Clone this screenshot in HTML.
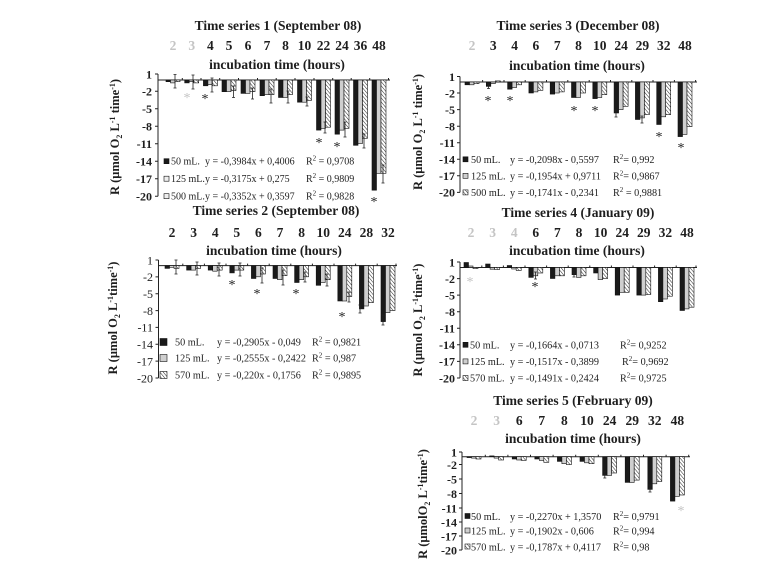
<!DOCTYPE html>
<html><head><meta charset="utf-8">
<style>
html,body{margin:0;padding:0;background:#fff;}
svg{display:block;}
text{font-family:"Liberation Serif",serif;fill:#1e1e1e;}
.t{font-size:13.5px;font-weight:bold;text-anchor:middle;}
.xl{font-size:13.5px;font-weight:bold;text-anchor:middle;}
.gy{fill:#c4c4c4;}
.yl{font-size:12px;font-weight:bold;text-anchor:end;}
.yn{font-size:12px;font-weight:normal;text-anchor:end;}
.yt{font-size:12.5px;font-weight:bold;text-anchor:middle;}
.lg{font-size:10.2px;}
.lg1{font-size:10px;}
.as{font-size:14px;font-weight:normal;text-anchor:middle;}
.k{fill:#1a1a1a;stroke:#111;stroke-width:.6;}
.g{fill:#cfcfcf;stroke:#111;stroke-width:.6;}
.h{fill:url(#hp);stroke:#111;stroke-width:.6;}
.ax{fill:none;stroke:#222;stroke-width:1;}
.er{fill:none;stroke:#222;stroke-width:.8;}
</style></head>
<body>
<svg width="767" height="570" viewBox="0 0 767 570" xmlns="http://www.w3.org/2000/svg">
<defs>
<pattern id="hp" width="2.6" height="2.6" patternUnits="userSpaceOnUse" patternTransform="rotate(-40)">
<rect width="2.6" height="2.6" fill="#fff"/><line x1="0" y1="0" x2="0" y2="2.6" stroke="#222" stroke-width="1"/>
</pattern>
</defs>

<!-- ================= PANEL 1 ================= -->
<text class="t" x="278" y="30">Time series 1 (September 08)</text>
<text class="xl gy" x="173" y="50">2</text>
<text class="xl gy" x="191.7" y="50">3</text>
<text class="xl" x="210.4" y="50">4</text>
<text class="xl" x="229" y="50">5</text>
<text class="xl" x="248" y="50">6</text>
<text class="xl" x="267" y="50">7</text>
<text class="xl" x="285.5" y="50">8</text>
<text class="xl" x="304.5" y="50">10</text>
<text class="xl" x="323.5" y="50">22</text>
<text class="xl" x="342" y="50">24</text>
<text class="xl" x="360.5" y="50">36</text>
<text class="xl" x="379" y="50">48</text>
<text class="t" x="277" y="69">incubation time (hours)</text>
<text class="yt" transform="translate(119,137) rotate(-90)">R (μmol O<tspan font-size="8" dy="3">2</tspan><tspan dy="-3"> L</tspan><tspan font-size="8" dy="-4">-1</tspan><tspan dy="4"> time</tspan><tspan font-size="8" dy="-4">-1</tspan><tspan dy="4">)</tspan></text>
<text class="yl" x="152" y="78.3">1</text>
<text class="yl" x="152" y="95.6">-2</text>
<text class="yl" x="152" y="113.1">-5</text>
<text class="yl" x="152" y="130.5">-8</text>
<text class="yl" x="152" y="148">-11</text>
<text class="yl" x="152" y="165.5">-14</text>
<text class="yl" x="152" y="183">-17</text>
<text class="yl" x="152" y="200.5">-20</text>
<path class="ax" d="M158 74V196.2M155 74H158M155 91.3H158M155 108.8H158M155 126.2H158M155 143.7H158M155 161.2H158M155 178.7H158M155 196.2H158M158 80H390M182.3 80v-2M201 80v-2M219.7 80v-2M238.5 80v-2M257.5 80v-2M276.2 80v-2M295 80v-2M314 80v-2M332.7 80v-2M351.2 80v-2M369.7 80v-2M388.5 80v-2"/>
<g>
<rect class="k" x="166" y="80" width="4.5" height="1.7"/><rect class="g" x="170.5" y="80" width="4.5" height="2.9"/><rect class="h" x="175" y="80" width="5" height="1.7"/>
<rect class="k" x="184.7" y="80" width="4.5" height="2.9"/><rect class="g" x="189.2" y="80" width="4.5" height="1.7"/><rect class="h" x="193.7" y="80" width="5" height="2.9"/>
<rect class="k" x="203.4" y="80" width="4.5" height="5.8"/><rect class="g" x="207.9" y="80" width="4.5" height="4.7"/><rect class="h" x="212.4" y="80" width="5" height="5.8"/>
<rect class="k" x="222" y="80" width="4.5" height="11.7"/><rect class="g" x="226.5" y="80" width="4.5" height="11.7"/><rect class="h" x="231" y="80" width="5" height="10.5"/>
<rect class="k" x="241" y="80" width="4.5" height="13.4"/><rect class="g" x="245.5" y="80" width="4.5" height="13.4"/><rect class="h" x="250" y="80" width="5" height="11.7"/>
<rect class="k" x="260" y="80" width="4.5" height="15.7"/><rect class="g" x="264.5" y="80" width="4.5" height="14.6"/><rect class="h" x="269" y="80" width="5" height="14.6"/>
<rect class="k" x="278.5" y="80" width="4.5" height="17.5"/><rect class="g" x="283" y="80" width="4.5" height="17.5"/><rect class="h" x="287.5" y="80" width="5" height="14.6"/>
<rect class="k" x="297.5" y="80" width="4.5" height="22.2"/><rect class="g" x="302" y="80" width="4.5" height="22.2"/><rect class="h" x="306.5" y="80" width="5" height="20.4"/>
<rect class="k" x="316.5" y="80" width="4.5" height="50.1"/><rect class="g" x="321" y="80" width="4.5" height="48.4"/><rect class="h" x="325.5" y="80" width="5" height="47.2"/>
<rect class="k" x="335" y="80" width="4.5" height="54.2"/><rect class="g" x="339.5" y="80" width="4.5" height="50.1"/><rect class="h" x="344" y="80" width="5" height="48.4"/>
<rect class="k" x="353.5" y="80" width="4.5" height="65.3"/><rect class="g" x="358" y="80" width="4.5" height="63.5"/><rect class="h" x="362.5" y="80" width="5" height="58.3"/>
<rect class="k" x="372" y="80" width="4.5" height="110.2"/><rect class="g" x="376.5" y="80" width="4.5" height="93.3"/><rect class="h" x="381" y="80" width="5" height="93.3"/>
</g>
<path class="er" d="M175 74.5V88M173.5 74.5h3M173.5 88h3M193 75V89M191.5 75h3M191.5 89h3M212 78V92M210.5 78h3M210.5 92h3M233.5 86V97.5M232 86h3M232 97.5h3M252.5 88V99M251 88h3M251 99h3M271 89V103M269.5 89h3M269.5 103h3M288 91V103M286.5 91h3M286.5 103h3M307 97V106M305.5 97h3M305.5 106h3M325 122V133M323.5 122h3M323.5 133h3M345 122V137M343.5 122h3M343.5 137h3M364 134V148M362.5 134h3M362.5 148h3M383 165V183M381.5 165h3M381.5 183h3"/>
<text class="as gy" x="187" y="102">*</text>
<text class="as" x="205" y="103">*</text>
<text class="as" x="319" y="147">*</text>
<text class="as" x="337" y="151">*</text>
<text class="as" x="374" y="206">*</text>
<rect class="k" x="164" y="158.7" width="5" height="5"/>
<rect class="g" x="164" y="176.2" width="5" height="5" style="fill:#eee"/>
<rect class="g" x="164" y="193.7" width="5" height="5" style="fill:#eee"/>
<text class="lg1" x="171" y="164.7">50 mL.</text><text class="lg1" x="205" y="164.7">y = -0,3984x + 0,4006</text><text class="lg1" x="306" y="164.7">R<tspan font-size="7" dy="-4">2</tspan><tspan dy="4"> = 0,9708</tspan></text>
<text class="lg1" x="171" y="182.2">125 mL.</text><text class="lg1" x="205" y="182.2">y = -0,3175x + 0,275</text><text class="lg1" x="306" y="182.2">R<tspan font-size="7" dy="-4">2</tspan><tspan dy="4"> = 0,9809</tspan></text>
<text class="lg1" x="171" y="199.7">500 mL.</text><text class="lg1" x="205" y="199.7">y = -0,3352x + 0,3597</text><text class="lg1" x="306" y="199.7">R<tspan font-size="7" dy="-4">2</tspan><tspan dy="4"> = 0,9828</tspan></text>

<!-- ================= PANEL 2 ================= -->
<text class="t" x="276" y="215">Time series 2 (September 08)</text>
<text class="xl" x="172" y="237">2</text>
<text class="xl" x="193.6" y="237">3</text>
<text class="xl" x="215.2" y="237">4</text>
<text class="xl" x="236.8" y="237">5</text>
<text class="xl" x="258.4" y="237">6</text>
<text class="xl" x="280" y="237">7</text>
<text class="xl" x="301.6" y="237">8</text>
<text class="xl" x="323.2" y="237">10</text>
<text class="xl" x="344.8" y="237">24</text>
<text class="xl" x="366.4" y="237">28</text>
<text class="xl" x="388" y="237">32</text>
<text class="t" x="274" y="255">incubation time (hours)</text>
<text class="yt" transform="translate(117,318) rotate(-90)">R (μmol O<tspan font-size="8" dy="3">2</tspan><tspan dy="-3"> L</tspan><tspan font-size="8" dy="-4">-1</tspan><tspan dy="4">time</tspan><tspan font-size="8" dy="-4">-1</tspan><tspan dy="4">)</tspan></text>
<text class="yn" x="153" y="264.3">1</text>
<text class="yn" x="153" y="281.2">-2</text>
<text class="yn" x="153" y="298">-5</text>
<text class="yn" x="153" y="314.9">-8</text>
<text class="yn" x="153" y="331.7">-11</text>
<text class="yn" x="153" y="348.6">-14</text>
<text class="yn" x="153" y="365.4">-17</text>
<text class="yn" x="153" y="382.3">-20</text>
<path class="ax" d="M158.5 260V378M155.5 260H158.5M155.5 276.9H158.5M155.5 293.7H158.5M155.5 310.6H158.5M155.5 327.4H158.5M155.5 344.3H158.5M155.5 361.1H158.5M155.5 378H158.5M158.5 265.6H397M182.8 265.6v-2M204.4 265.6v-2M226 265.6v-2M247.6 265.6v-2M269.2 265.6v-2M290.8 265.6v-2M312.4 265.6v-2M334 265.6v-2M355.6 265.6v-2M377.2 265.6v-2M396 265.6v-2"/>
<g>
<rect class="k" x="165" y="265.6" width="4.5" height="2.8"/><rect class="g" x="169.5" y="265.6" width="4.5" height="1.7"/><rect class="h" x="174" y="265.6" width="5" height="2.8"/>
<rect class="k" x="186.6" y="265.6" width="4.5" height="4.5"/><rect class="g" x="191.1" y="265.6" width="4.5" height="4.5"/><rect class="h" x="195.6" y="265.6" width="5" height="2.8"/>
<rect class="k" x="208.2" y="265.6" width="4.5" height="4.5"/><rect class="g" x="212.7" y="265.6" width="4.5" height="5.6"/><rect class="h" x="217.2" y="265.6" width="5" height="4.5"/>
<rect class="k" x="229.8" y="265.6" width="4.5" height="7.3"/><rect class="g" x="234.3" y="265.6" width="4.5" height="4.5"/><rect class="h" x="238.8" y="265.6" width="5" height="4.5"/>
<rect class="k" x="251.4" y="265.6" width="4.5" height="12.9"/><rect class="g" x="255.9" y="265.6" width="4.5" height="11.2"/><rect class="h" x="260.4" y="265.6" width="5" height="8.4"/>
<rect class="k" x="273" y="265.6" width="4.5" height="12.9"/><rect class="g" x="277.5" y="265.6" width="4.5" height="14.1"/><rect class="h" x="282" y="265.6" width="5" height="10.1"/>
<rect class="k" x="294.6" y="265.6" width="4.5" height="16.9"/><rect class="g" x="299.1" y="265.6" width="4.5" height="14.1"/><rect class="h" x="303.6" y="265.6" width="5" height="11.2"/>
<rect class="k" x="316.2" y="265.6" width="4.5" height="19.7"/><rect class="g" x="320.7" y="265.6" width="4.5" height="16.9"/><rect class="h" x="325.2" y="265.6" width="5" height="14.1"/>
<rect class="k" x="337.8" y="265.6" width="4.5" height="35.4"/><rect class="g" x="342.3" y="265.6" width="4.5" height="35.4"/><rect class="h" x="346.8" y="265.6" width="5" height="30.9"/>
<rect class="k" x="359.4" y="265.6" width="4.5" height="43.3"/><rect class="g" x="363.9" y="265.6" width="4.5" height="40.4"/><rect class="h" x="368.4" y="265.6" width="5" height="37"/>
<rect class="k" x="381" y="265.6" width="4.5" height="56"/><rect class="g" x="385.5" y="265.6" width="4.5" height="47"/><rect class="h" x="390" y="265.6" width="5" height="45"/>
</g>
<path class="er" d="M176 260V274M174.5 260h3M174.5 274h3M197 262V275M195.5 262h3M195.5 275h3M219 263V276M217.5 263h3M217.5 276h3M240 263V276M238.5 263h3M238.5 276h3M262 268V283M260.5 268h3M260.5 283h3M283 270V285M281.5 270h3M281.5 285h3M305 272V282M303.5 272h3M303.5 282h3M327 274V286M325.5 274h3M325.5 286h3M349 292V302M347.5 292h3M347.5 302h3M360 305V313M358.5 305h3M358.5 313h3M383 315V325M381.5 315h3M381.5 325h3"/>
<text class="as" x="232" y="289">*</text>
<text class="as" x="257" y="298">*</text>
<text class="as" x="296" y="298">*</text>
<text class="as" x="342" y="321">*</text>
<rect class="k" x="160" y="338.5" width="7" height="7"/>
<rect class="g" x="160" y="354.5" width="7" height="7"/>
<rect class="h" x="160" y="371.5" width="7" height="7"/>
<text class="lg" x="175" y="345.5">50 mL.</text><text class="lg" x="217" y="345.5">y = -0,2905x - 0,049</text><text class="lg" x="312" y="345.5">R<tspan font-size="7" dy="-4">2</tspan><tspan dy="4"> = 0,9821</tspan></text>
<text class="lg" x="175" y="361.5">125 mL.</text><text class="lg" x="217" y="361.5">y = -0,2555x - 0,2422</text><text class="lg" x="312" y="361.5">R<tspan font-size="7" dy="-4">2</tspan><tspan dy="4"> = 0,987</tspan></text>
<text class="lg" x="175" y="378.5">570 mL.</text><text class="lg" x="217" y="378.5">y = -0,220x - 0,1756</text><text class="lg" x="312" y="378.5">R<tspan font-size="7" dy="-4">2</tspan><tspan dy="4"> = 0,9895</tspan></text>

<!-- ================= PANEL 3 ================= -->
<text class="t" x="578" y="30">Time series 3 (December 08)</text>
<text class="xl gy" x="472" y="50">2</text>
<text class="xl" x="493.3" y="50">3</text>
<text class="xl" x="514.6" y="50">4</text>
<text class="xl" x="535.9" y="50">6</text>
<text class="xl" x="557.2" y="50">7</text>
<text class="xl" x="578.5" y="50">8</text>
<text class="xl" x="599.8" y="50">10</text>
<text class="xl" x="621.1" y="50">24</text>
<text class="xl" x="642.4" y="50">29</text>
<text class="xl" x="663.7" y="50">32</text>
<text class="xl" x="685" y="50">48</text>
<text class="t" x="577" y="70">incubation time (hours)</text>
<text class="yt" transform="translate(422,132) rotate(-90)">R (μmol O<tspan font-size="8" dy="3">2</tspan><tspan dy="-3"> L</tspan><tspan font-size="8" dy="-4">-1</tspan><tspan dy="4"> time</tspan><tspan font-size="8" dy="-4">-1</tspan><tspan dy="4">)</tspan></text>
<text class="yl" x="455" y="80.8">1</text>
<text class="yl" x="455" y="97.3">-2</text>
<text class="yl" x="455" y="113.9">-5</text>
<text class="yl" x="455" y="130.5">-8</text>
<text class="yl" x="455" y="147">-11</text>
<text class="yl" x="455" y="163.6">-14</text>
<text class="yl" x="455" y="180.1">-17</text>
<text class="yl" x="455" y="196.7">-20</text>
<path class="ax" d="M460 76.5V192.4M457 76.5H460M457 93H460M457 109.6H460M457 126.2H460M457 142.7H460M457 159.3H460M457 175.8H460M457 192.4H460M460 82H697M482.6 82v-2M504 82v-2M525.2 82v-2M546.5 82v-2M567.8 82v-2M589.2 82v-2M610.5 82v-2M631.8 82v-2M653 82v-2M674.4 82v-2M695.6 82v-2"/>
<g>
<rect class="k" x="465" y="82" width="4.5" height="2.8"/><rect class="g" x="469.5" y="82" width="4.5" height="2.8"/><rect class="h" x="474" y="82" width="5" height="1.7"/>
<rect class="k" x="486.3" y="82" width="4.5" height="4.4"/><rect class="g" x="490.8" y="82" width="4.5" height="1.7"/><rect class="h" x="495.3" y="80.9" width="5" height="1.1"/>
<rect class="k" x="507.6" y="82" width="4.5" height="7.2"/><rect class="g" x="512.1" y="82" width="4.5" height="5.5"/><rect class="h" x="516.6" y="82" width="5" height="2.8"/>
<rect class="k" x="528.9" y="82" width="4.5" height="11"/><rect class="g" x="533.4" y="82" width="4.5" height="9.9"/><rect class="h" x="537.9" y="82" width="5" height="8.3"/>
<rect class="k" x="550.2" y="82" width="4.5" height="12.1"/><rect class="g" x="554.7" y="82" width="4.5" height="11"/><rect class="h" x="559.2" y="82" width="5" height="9.9"/>
<rect class="k" x="571.5" y="82" width="4.5" height="15.5"/><rect class="g" x="576" y="82" width="4.5" height="15.5"/><rect class="h" x="580.5" y="82" width="5" height="11"/>
<rect class="k" x="592.8" y="82" width="4.5" height="16.6"/><rect class="g" x="597.3" y="82" width="4.5" height="15.5"/><rect class="h" x="601.8" y="82" width="5" height="12.7"/>
<rect class="k" x="614.1" y="82" width="4.5" height="31"/><rect class="g" x="618.6" y="82" width="4.5" height="27.6"/><rect class="h" x="623.1" y="82" width="5" height="24.3"/>
<rect class="k" x="635.4" y="82" width="4.5" height="37.5"/><rect class="g" x="639.9" y="82" width="4.5" height="35.9"/><rect class="h" x="644.4" y="82" width="5" height="32.6"/>
<rect class="k" x="656.7" y="82" width="4.5" height="42.5"/><rect class="g" x="661.2" y="82" width="4.5" height="34.8"/><rect class="h" x="665.7" y="82" width="5" height="32.6"/>
<rect class="k" x="678" y="82" width="4.5" height="54.6"/><rect class="g" x="682.5" y="82" width="4.5" height="52.4"/><rect class="h" x="687" y="82" width="5" height="44.7"/>
</g>
<path class="er" d="M488.5 84V88.5M487 84h3M487 88.5h3M616 110V117M614.5 110h3M614.5 117h3M642 116V123M640.5 116h3M640.5 123h3"/>
<text class="as" x="488" y="105">*</text>
<text class="as" x="510" y="105">*</text>
<text class="as" x="574" y="115">*</text>
<text class="as" x="595" y="115">*</text>
<text class="as" x="659" y="141">*</text>
<text class="as" x="681" y="152">*</text>
<rect class="k" x="463" y="156.8" width="5" height="5"/>
<rect class="g" x="463" y="173.3" width="5" height="5"/>
<rect class="h" x="463" y="189.9" width="5" height="5"/>
<text class="lg" x="471" y="163">50 mL.</text><text class="lg" x="510" y="163">y = -0,2098x - 0,5597</text><text class="lg" x="613" y="163">R<tspan font-size="7" dy="-4">2</tspan><tspan dy="4">= 0,992</tspan></text>
<text class="lg" x="471" y="179.5">125 mL.</text><text class="lg" x="510" y="179.5">y = -0,1954x + 0,9711</text><text class="lg" x="613" y="179.5">R<tspan font-size="7" dy="-4">2</tspan><tspan dy="4">= 0,9867</tspan></text>
<text class="lg" x="471" y="196">500 mL.</text><text class="lg" x="510" y="196">y =  -0,1741x - 0,2341</text><text class="lg" x="613" y="196">R<tspan font-size="7" dy="-4">2</tspan><tspan dy="4"> = 0,9881</tspan></text>

<!-- ================= PANEL 4 ================= -->
<text class="t" x="578" y="217">Time series 4 (January 09)</text>
<text class="xl gy" x="471" y="237">2</text>
<text class="xl gy" x="492.6" y="237">3</text>
<text class="xl gy" x="514.2" y="237">4</text>
<text class="xl" x="535.8" y="237">6</text>
<text class="xl" x="557.4" y="237">7</text>
<text class="xl" x="579" y="237">8</text>
<text class="xl" x="600.6" y="237">10</text>
<text class="xl" x="622.2" y="237">24</text>
<text class="xl" x="643.8" y="237">29</text>
<text class="xl" x="665.4" y="237">32</text>
<text class="xl" x="687" y="237">48</text>
<text class="t" x="577" y="255">incubation time (hours)</text>
<text class="yt" transform="translate(422,320) rotate(-90)">R (μmol O<tspan font-size="8" dy="3">2</tspan><tspan dy="-3"> L</tspan><tspan font-size="8" dy="-4">-1</tspan><tspan dy="4">time</tspan><tspan font-size="8" dy="-4">-1</tspan><tspan dy="4">)</tspan></text>
<text class="yl" x="455" y="266.3">1</text>
<text class="yl" x="455" y="282.9">-2</text>
<text class="yl" x="455" y="299.4">-5</text>
<text class="yl" x="455" y="316">-8</text>
<text class="yl" x="455" y="332.5">-11</text>
<text class="yl" x="455" y="349.1">-14</text>
<text class="yl" x="455" y="365.7">-17</text>
<text class="yl" x="455" y="382.3">-20</text>
<path class="ax" d="M460 262V378M457 262H460M457 278.6H460M457 295.1H460M457 311.7H460M457 328.2H460M457 344.8H460M457 361.4H460M457 378H460M460 267.5H697M481.8 267.5v-2M503.4 267.5v-2M525 267.5v-2M546.6 267.5v-2M568.2 267.5v-2M589.8 267.5v-2M611.4 267.5v-2M633 267.5v-2M654.6 267.5v-2M676.2 267.5v-2M696 267.5v-2"/>
<g>
<rect class="k" x="464" y="262.5" width="4.5" height="5"/><rect class="g" x="468.5" y="266" width="4.5" height="1.5"/><rect class="h" x="473" y="267.5" width="5" height="1"/>
<rect class="k" x="485.6" y="264" width="4.5" height="3.5"/><rect class="g" x="490.1" y="267.5" width="4.5" height="1.7"/><rect class="h" x="494.6" y="267.5" width="5" height="2"/>
<rect class="k" x="507.2" y="265.5" width="4.5" height="2"/><rect class="g" x="511.7" y="267.5" width="4.5" height="1.5"/><rect class="h" x="516.2" y="267.5" width="5" height="3"/>
<rect class="k" x="528.8" y="267.5" width="4.5" height="9.9"/><rect class="g" x="533.3" y="267.5" width="4.5" height="8.3"/><rect class="h" x="537.8" y="267.5" width="5" height="5.5"/>
<rect class="k" x="550.4" y="267.5" width="4.5" height="11"/><rect class="g" x="554.9" y="267.5" width="4.5" height="8.3"/><rect class="h" x="559.4" y="267.5" width="5" height="8.3"/>
<rect class="k" x="572" y="267.5" width="4.5" height="7.2"/><rect class="g" x="576.5" y="267.5" width="4.5" height="9.9"/><rect class="h" x="581" y="267.5" width="5" height="8.3"/>
<rect class="k" x="593.6" y="267.5" width="4.5" height="5.5"/><rect class="g" x="598.1" y="267.5" width="4.5" height="12.1"/><rect class="h" x="602.6" y="267.5" width="5" height="11"/>
<rect class="k" x="615.2" y="267.5" width="4.5" height="27.6"/><rect class="g" x="619.7" y="267.5" width="4.5" height="24.8"/><rect class="h" x="624.2" y="267.5" width="5" height="24.8"/>
<rect class="k" x="636.8" y="267.5" width="4.5" height="27.6"/><rect class="g" x="641.3" y="267.5" width="4.5" height="27.6"/><rect class="h" x="645.8" y="267.5" width="5" height="27"/>
<rect class="k" x="658.4" y="267.5" width="4.5" height="34.2"/><rect class="g" x="662.9" y="267.5" width="4.5" height="31.5"/><rect class="h" x="667.4" y="267.5" width="5" height="28.7"/>
<rect class="k" x="680" y="267.5" width="4.5" height="43"/><rect class="g" x="684.5" y="267.5" width="4.5" height="41.4"/><rect class="h" x="689" y="267.5" width="5" height="39.7"/>
</g>
<path class="er" d="M535.5 272V279M534 272h3M534 279h3M574 270V277M572.5 270h3M572.5 277h3"/>
<text class="as gy" x="470" y="286">*</text>
<text class="as" x="535" y="291">*</text>
<rect class="k" x="463" y="342.3" width="5" height="5"/>
<rect class="g" x="463" y="358.9" width="5" height="5"/>
<rect class="h" x="463" y="375.5" width="5" height="5"/>
<text class="lg" x="470" y="348.5">50 mL.</text><text class="lg" x="510" y="348.5">y = -0,1664x - 0,0713</text><text class="lg" x="620" y="348.5">R<tspan font-size="7" dy="-4">2</tspan><tspan dy="4">= 0,9252</tspan></text>
<text class="lg" x="470" y="365">125 mL.</text><text class="lg" x="510" y="365">y = -0,1517x - 0,3899</text><text class="lg" x="622" y="365">R<tspan font-size="7" dy="-4">2</tspan><tspan dy="4">= 0,9692</tspan></text>
<text class="lg" x="470" y="381.5">570 mL.</text><text class="lg" x="510" y="381.5">y = -0,1491x  - 0,2424</text><text class="lg" x="620" y="381.5">R<tspan font-size="7" dy="-4">2</tspan><tspan dy="4">= 0,9725</tspan></text>

<!-- ================= PANEL 5 ================= -->
<text class="t" x="573" y="405">Time series 5 (February 09)</text>
<text class="xl gy" x="474" y="425">2</text>
<text class="xl gy" x="496.6" y="425">3</text>
<text class="xl" x="519.2" y="425">6</text>
<text class="xl" x="541.8" y="425">7</text>
<text class="xl" x="564.4" y="425">8</text>
<text class="xl" x="587" y="425">10</text>
<text class="xl" x="609.6" y="425">24</text>
<text class="xl" x="632.2" y="425">29</text>
<text class="xl" x="654.8" y="425">32</text>
<text class="xl" x="677.4" y="425">48</text>
<text class="t" x="573" y="443">incubation time (hours)</text>
<text class="yt" transform="translate(427,504) rotate(-90)">R (μmolO<tspan font-size="8" dy="3">2</tspan><tspan dy="-3"> L</tspan><tspan font-size="8" dy="-4">-1</tspan><tspan dy="4">time</tspan><tspan font-size="8" dy="-4">-1</tspan><tspan dy="4">)</tspan></text>
<text class="yl" x="457" y="456.3">1</text>
<text class="yl" x="457" y="468.8">-2</text>
<text class="yl" x="457" y="483.3">-5</text>
<text class="yl" x="457" y="497.8">-8</text>
<text class="yl" x="457" y="512.3">-11</text>
<text class="yl" x="457" y="526.3">-14</text>
<text class="yl" x="457" y="540.3">-17</text>
<text class="yl" x="457" y="554.3">-20</text>
<path class="ax" d="M462 452V550M459 452H462M459 464.5H462M459 479H462M459 493.5H462M459 508H462M459 522H462M459 536H462M459 550H462M462 456.7H690M485.3 456.7v-2M507.9 456.7v-2M530.5 456.7v-2M553.1 456.7v-2M575.7 456.7v-2M598.3 456.7v-2M620.9 456.7v-2M643.5 456.7v-2M666.1 456.7v-2M688.7 456.7v-2"/>
<g>
<rect class="k" x="467" y="456.7" width="4.5" height="0.9"/><rect class="g" x="471.5" y="456.7" width="4.5" height="1.4"/><rect class="h" x="476" y="456.7" width="5" height="2.3"/>
<rect class="k" x="489.6" y="455.9" width="4.5" height="0.8"/><rect class="g" x="494.1" y="456.7" width="4.5" height="1.4"/><rect class="h" x="498.6" y="456.7" width="5" height="3.3"/>
<rect class="k" x="512.2" y="456.7" width="4.5" height="2.3"/><rect class="g" x="516.7" y="456.7" width="4.5" height="3.3"/><rect class="h" x="521.2" y="456.7" width="5" height="3.7"/>
<rect class="k" x="534.8" y="456.7" width="4.5" height="2.3"/><rect class="g" x="539.3" y="456.7" width="4.5" height="3.7"/><rect class="h" x="543.8" y="456.7" width="5" height="5.6"/>
<rect class="k" x="557.4" y="456.7" width="4.5" height="4.7"/><rect class="g" x="561.9" y="456.7" width="4.5" height="7"/><rect class="h" x="566.4" y="456.7" width="5" height="7.9"/>
<rect class="k" x="580" y="456.7" width="4.5" height="4.7"/><rect class="g" x="584.5" y="456.7" width="4.5" height="6.1"/><rect class="h" x="589" y="456.7" width="5" height="7"/>
<rect class="k" x="602.6" y="456.7" width="4.5" height="18.7"/><rect class="g" x="607.1" y="456.7" width="4.5" height="18.7"/><rect class="h" x="611.6" y="456.7" width="5" height="16.3"/>
<rect class="k" x="625.2" y="456.7" width="4.5" height="25.7"/><rect class="g" x="629.7" y="456.7" width="4.5" height="25.7"/><rect class="h" x="634.2" y="456.7" width="5" height="23.4"/>
<rect class="k" x="647.8" y="456.7" width="4.5" height="32.7"/><rect class="g" x="652.3" y="456.7" width="4.5" height="27.1"/><rect class="h" x="656.8" y="456.7" width="5" height="24.8"/>
<rect class="k" x="670.4" y="456.7" width="4.5" height="44.4"/><rect class="g" x="674.9" y="456.7" width="4.5" height="39.7"/><rect class="h" x="679.4" y="456.7" width="5" height="38.3"/>
</g>
<path class="er" d="M604.8 471V478M603.3 471h3M603.3 478h3M650 485V492M648.5 485h3M648.5 492h3"/>
<text class="as gy" x="681" y="515">*</text>
<rect class="k" x="465" y="513.5" width="5" height="5"/>
<rect class="g" x="465" y="528" width="5" height="5"/>
<rect class="h" x="465" y="544" width="5" height="5"/>
<text class="lg" x="471" y="520">50 mL.</text><text class="lg" x="510" y="520">y = -0,2270x + 1,3570</text><text class="lg" x="613" y="520">R<tspan font-size="7" dy="-4">2</tspan><tspan dy="4">= 0,9791</tspan></text>
<text class="lg" x="471" y="534.5">125 mL.</text><text class="lg" x="510" y="534.5">y = -0,1902x - 0,606</text><text class="lg" x="613" y="534.5">R<tspan font-size="7" dy="-4">2</tspan><tspan dy="4">= 0,994</tspan></text>
<text class="lg" x="471" y="550.5">570 mL.</text><text class="lg" x="510" y="550.5">y = -0,1787x + 0,4117</text><text class="lg" x="613" y="550.5">R<tspan font-size="7" dy="-4">2</tspan><tspan dy="4">= 0,98</tspan></text>
</svg>
</body></html>
